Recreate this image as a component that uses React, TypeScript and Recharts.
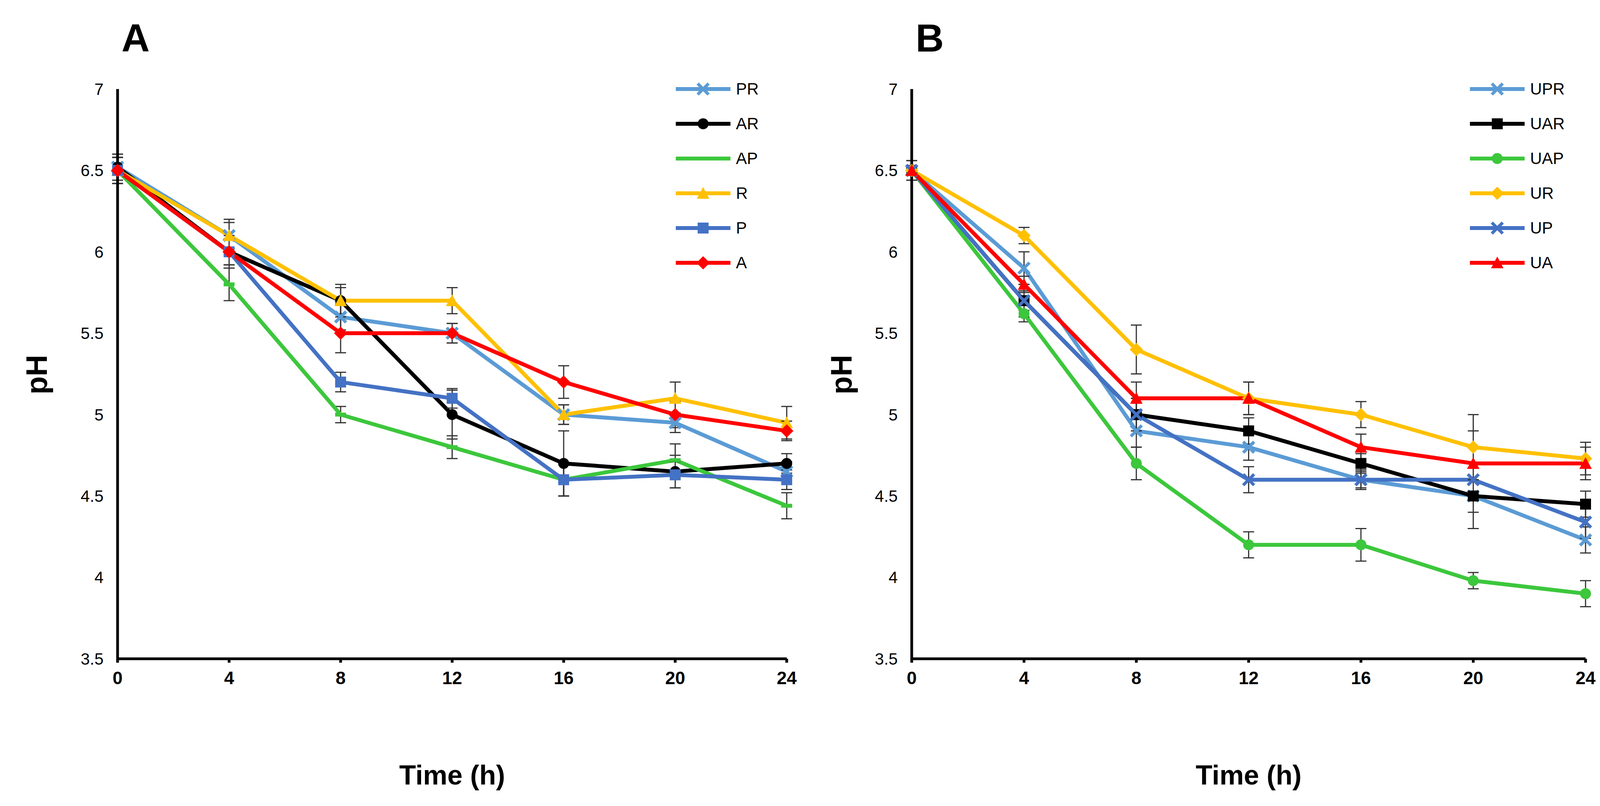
import React from 'react';
import { LineChart, Line, XAxis, YAxis, ErrorBar } from 'recharts';

const times = [0, 4, 8, 12, 16, 20, 24];
const yTicks = [3.5, 4, 4.5, 5, 5.5, 6, 6.5, 7];

const namesA = ['PR', 'AR', 'AP', 'R', 'P', 'A'];
const pr = [6.52, 6.1, 5.6, 5.5, 5.0, 4.95, 4.65];
const ar = [6.52, 6.0, 5.7, 5.0, 4.7, 4.65, 4.7];
const ap = [6.5, 5.8, 5.0, 4.8, 4.6, 4.72, 4.44];
const r = [6.5, 6.1, 5.7, 5.7, 5.0, 5.1, 4.95];
const p = [6.5, 6.0, 5.2, 5.1, 4.6, 4.63, 4.6];
const a = [6.5, 6.0, 5.5, 5.5, 5.2, 5.0, 4.9];
const prErr = [0.08, 0.08, 0.08, 0.06, 0.06, 0.06, 0.06];
const arErr = [0.08, 0.08, 0.08, 0.15, 0.2, 0.1, 0.06];
const apErr = [0.08, 0.1, 0.05, 0.07, 0.1, 0.1, 0.08];
const rErr = [0.08, 0.1, 0.1, 0.08, 0.06, 0.1, 0.1];
const pErr = [0.08, 0.1, 0.06, 0.06, 0.1, 0.08, 0.06];
const aErr = [0.08, 0.08, 0.12, 0.06, 0.1, 0.08, 0.06];

const namesB = ['UPR', 'UAR', 'UAP', 'UR', 'UP', 'UA'];
const upr = [6.5, 5.9, 4.9, 4.8, 4.6, 4.5, 4.23];
const uar = [6.5, 5.7, 5.0, 4.9, 4.7, 4.5, 4.45];
const uap = [6.5, 5.62, 4.7, 4.2, 4.2, 3.98, 3.9];
const ur = [6.5, 6.1, 5.4, 5.1, 5.0, 4.8, 4.73];
const up = [6.5, 5.7, 5.0, 4.6, 4.6, 4.6, 4.34];
const ua = [6.5, 5.8, 5.1, 5.1, 4.8, 4.7, 4.7];
const uprErr = [0.06, 0.1, 0.1, 0.08, 0.05, 0.1, 0.08];
const uarErr = [0.06, 0.06, 0.1, 0.08, 0.06, 0.2, 0.08];
const uapErr = [0.06, 0.05, 0.1, 0.08, 0.1, 0.05, 0.08];
const urErr = [0.06, 0.05, 0.15, 0.1, 0.08, 0.2, 0.1];
const upErr = [0.06, 0.1, 0.1, 0.08, 0.06, 0.3, 0.1];
const uaErr = [0.06, 0.05, 0.1, 0.1, 0.08, 0.1, 0.1];

const colors = ['#5B9BD5', '#000000', '#3CC73C', '#FFC000', '#4472C4', '#FF0000'];
const shapesA = ['x', 'circle', 'dash', 'triangle', 'square', 'diamond'];
const shapesB = ['x', 'square', 'circle', 'diamond', 'x', 'triangle'];

const FONT = '"Liberation Sans", Arial, sans-serif';

function Marker({ cx, cy, shape, color }: { cx: number; cy: number; shape: string; color: string }) {
  const s = 14;
  switch (shape) {
    case 'circle':
      return <circle cx={cx} cy={cy} r={s} fill={color} />;
    case 'square':
      return <rect x={cx - s} y={cy - s} width={2 * s} height={2 * s} fill={color} />;
    case 'triangle':
      return <polygon points={`${cx},${cy - s - 2} ${cx + s + 2},${cy + s} ${cx - s - 2},${cy + s}`} fill={color} />;
    case 'diamond':
      return <polygon points={`${cx},${cy - s - 3} ${cx + s + 3},${cy} ${cx},${cy + s + 3} ${cx - s - 3},${cy}`} fill={color} />;
    case 'dash':
      return <rect x={cx - s} y={cy - 5} width={2 * s} height={10} fill={color} />;
    default:
      return (
        <g stroke={color} strokeWidth={8}>
          <line x1={cx - s} y1={cy - s} x2={cx + s} y2={cy + s} />
          <line x1={cx - s} y1={cy + s} x2={cx + s} y2={cy - s} />
        </g>
      );
  }
}

function build(names: string[], vals: number[][], errs: number[][]) {
  return times.map((t, i) => {
    const row: Record<string, number> = { t };
    names.forEach((n, k) => {
      row[n] = vals[k][i];
      row[n + '_e'] = errs[k][i];
    });
    return row;
  });
}

function Panel({
  left, width, yw, right, names, vals, errs, shapes, letter, legendX,
}: {
  left: number; width: number; yw: number; right: number; names: string[]; vals: number[][];
  errs: number[][]; shapes: string[]; letter: string; legendX: number;
}) {
  const data = build(names, vals, errs);
  const tick = { fontSize: 42, fill: '#000', fontFamily: FONT };
  const xtick = { fontSize: 46, fill: '#000', fontFamily: FONT, fontWeight: 'bold' };
  return (
    <div style={{ position: 'absolute', left, top: 0, width, height: 2064 }}>
      <LineChart width={width} height={2064} data={data} margin={{ top: 228, right, bottom: 347, left: 0 }}>
        <XAxis dataKey="t" type="number" domain={[0, 24]} ticks={times} tick={xtick}
          stroke="#000" strokeWidth={7} tickSize={10} tickMargin={22} />
        <YAxis type="number" domain={[3.5, 7]} ticks={yTicks} tick={tick} width={yw}
          stroke="#000" strokeWidth={7} tickLine={false} tickMargin={30} />
        {names.map((n, k) => (
          <Line key={n} dataKey={n} stroke={colors[k]} strokeWidth={10} isAnimationActive={false}
            dot={(pr: any) => <Marker key={pr.index} cx={pr.cx} cy={pr.cy} shape={shapes[k]} color={colors[k]} />}>
            <ErrorBar dataKey={n + '_e'} direction="y" width={14} stroke="#333" strokeWidth={3} />
          </Line>
        ))}
      </LineChart>
      <div style={{ position: 'absolute', left: yw + 10, top: 40, fontSize: 100, fontWeight: 'bold', fontFamily: FONT }}>{letter}</div>
      <div style={{ position: 'absolute', left: 50, top: 1010, fontSize: 76, fontWeight: 'bold', fontFamily: FONT,
        transform: 'rotate(-90deg)', transformOrigin: 'left top', whiteSpace: 'nowrap' }}>pH</div>
      <div style={{ position: 'absolute', left: yw, width: width - yw - right, top: 1945, textAlign: 'center',
        fontSize: 70, fontWeight: 'bold', fontFamily: FONT }}>Time (h)</div>
      {names.map((n, k) => (
        <div key={n} style={{ position: 'absolute', left: legendX, top: 200 + k * 89, height: 56, display: 'flex', alignItems: 'center' }}>
          <svg width={140} height={56}>
            <line x1={0} y1={28} x2={140} y2={28} stroke={colors[k]} strokeWidth={10} />
            <Marker cx={70} cy={28} shape={shapes[k]} color={colors[k]} />
          </svg>
          <span style={{ marginLeft: 14, fontSize: 42, fontFamily: FONT }}>{n}</span>
        </div>
      ))}
    </div>
  );
}

export default function App() {
  return (
    <div style={{ position: 'relative', width: 4111, height: 2064, background: '#fff' }}>
      <style>{'body{margin:0}'}</style>
      <Panel left={0} width={2060} yw={301} right={46} names={namesA} vals={[pr, ar, ap, r, p, a]}
        errs={[prErr, arErr, apErr, rErr, pErr, aErr]} shapes={shapesA} letter="A" legendX={1730} />
      <Panel left={2060} width={2051} yw={274} right={52} names={namesB} vals={[upr, uar, uap, ur, up, ua]}
        errs={[uprErr, uarErr, uapErr, urErr, upErr, uaErr]} shapes={shapesB} letter="B" legendX={1703} />
    </div>
  );
}
